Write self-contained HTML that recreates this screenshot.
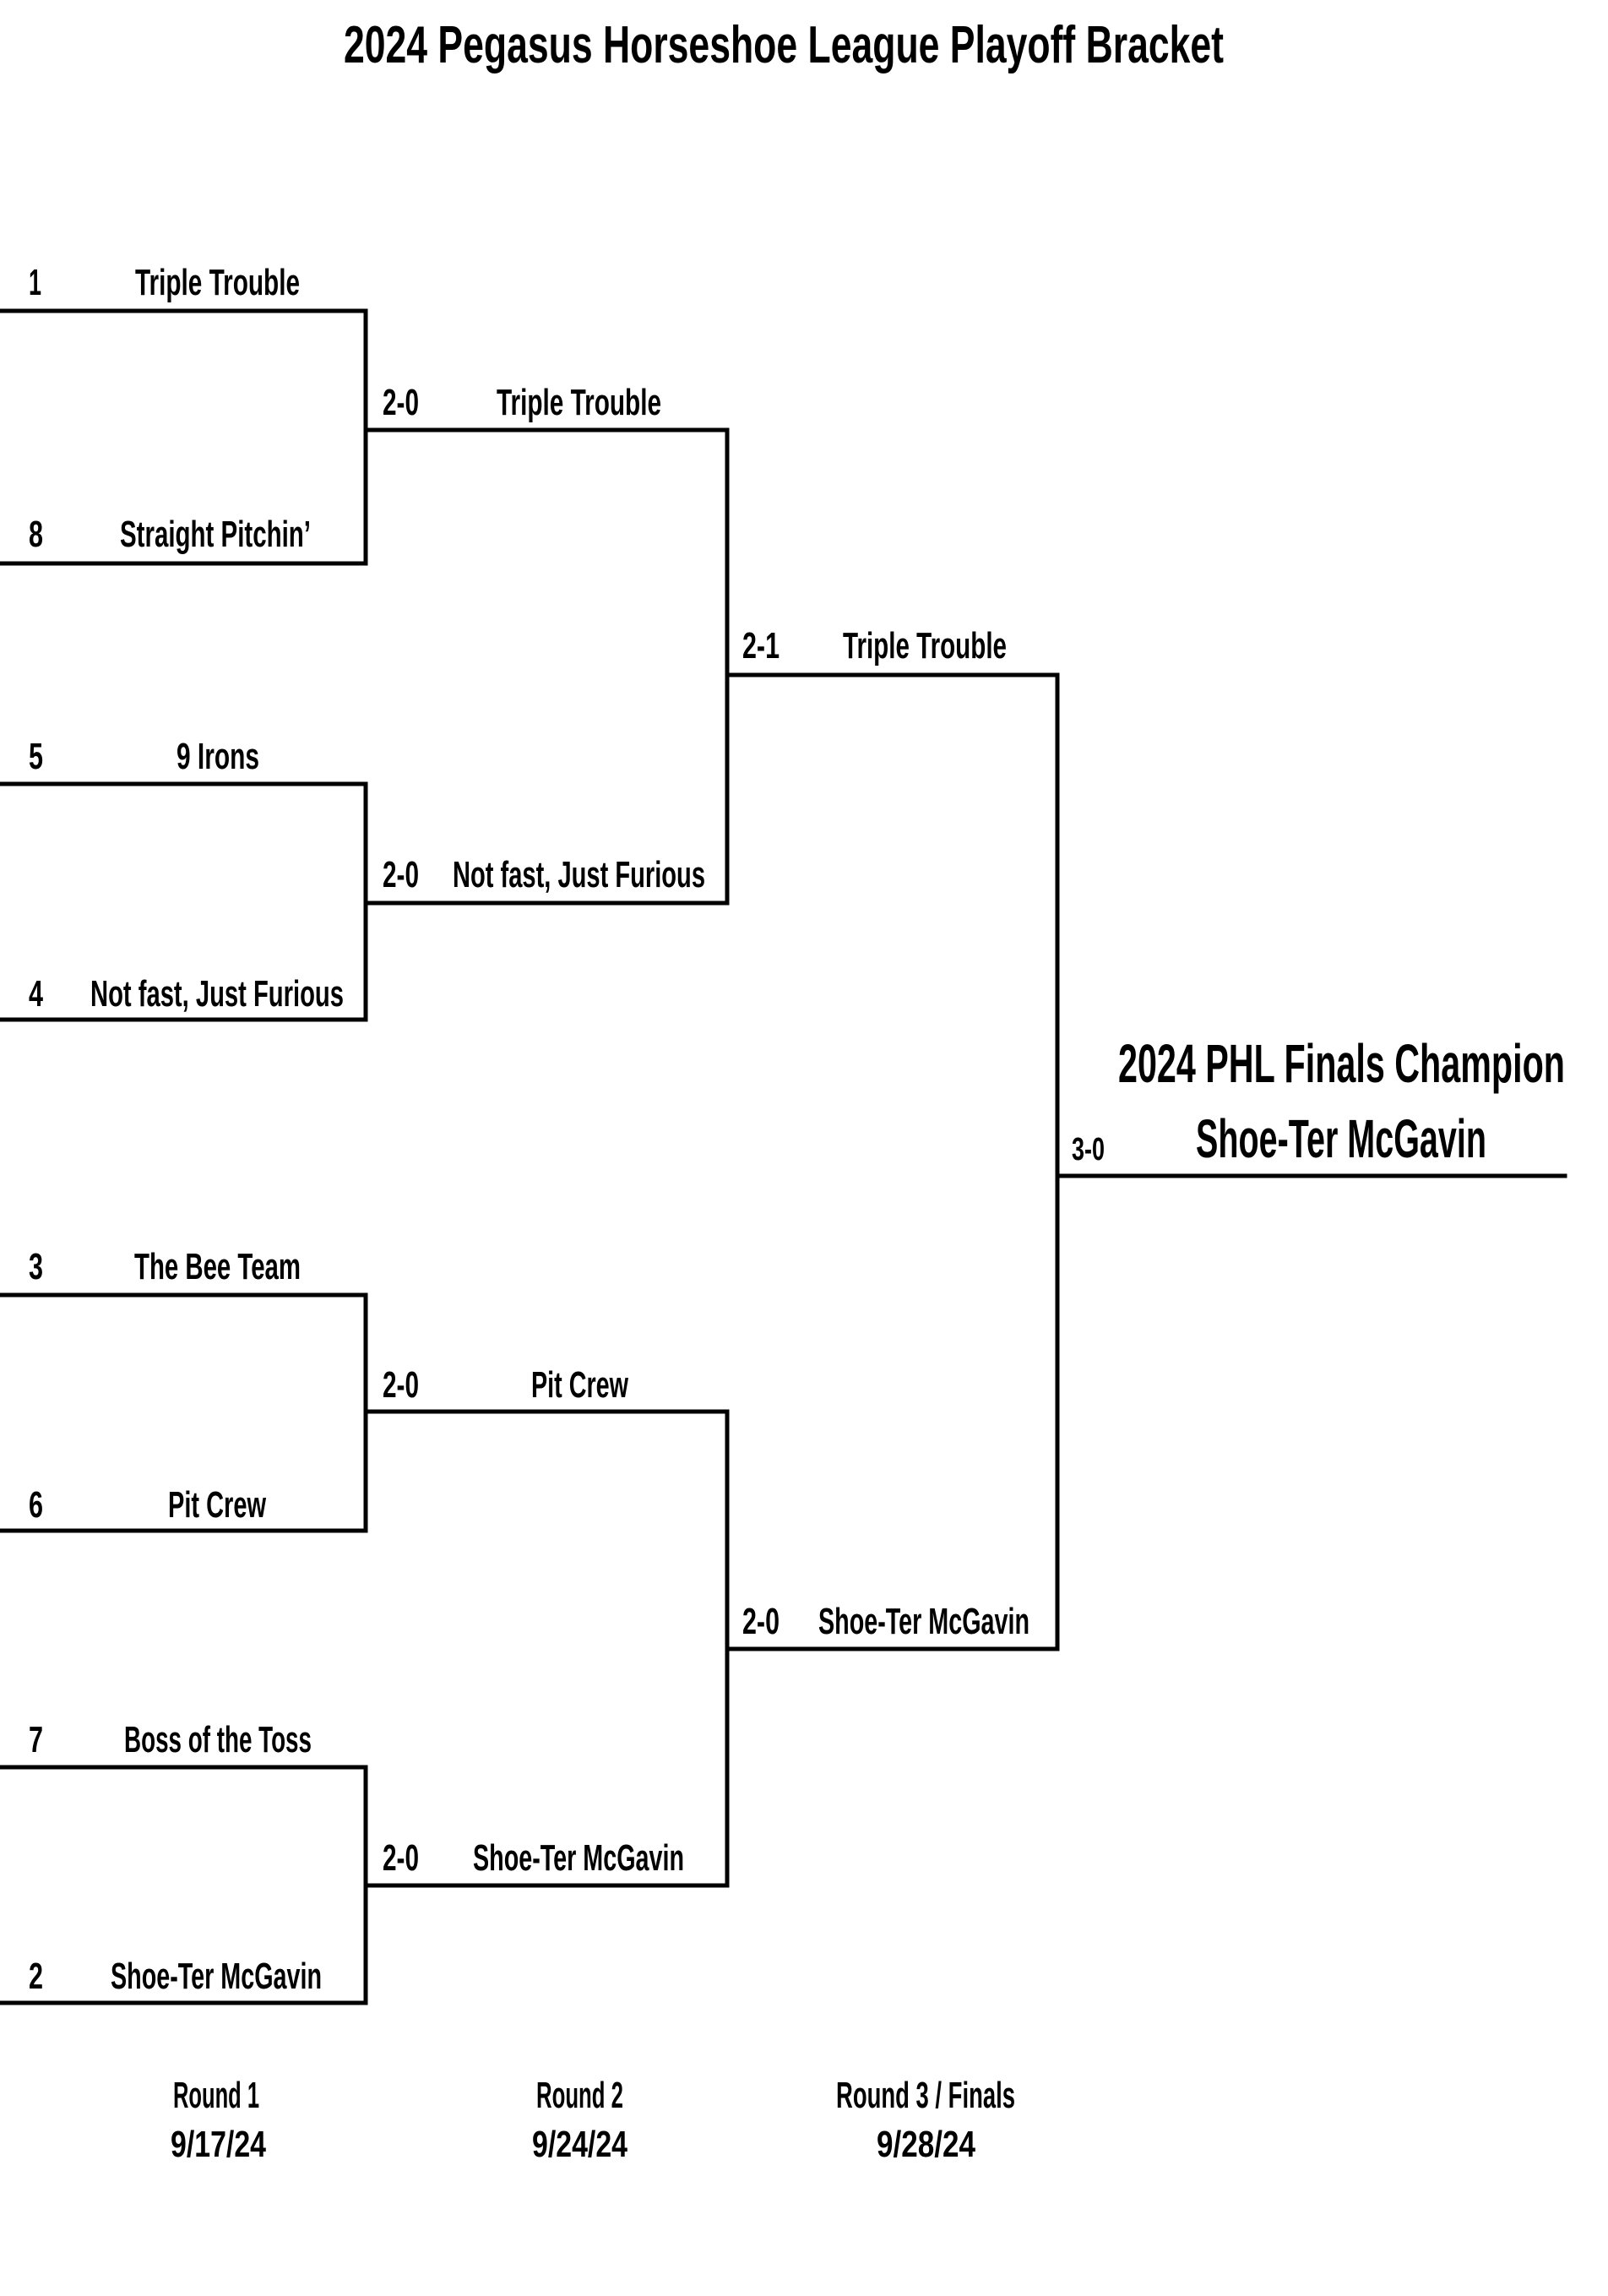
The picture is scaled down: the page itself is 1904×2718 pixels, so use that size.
<!DOCTYPE html>
<html><head><meta charset="utf-8"><style>
html,body{margin:0;padding:0;background:#fff;}
svg{display:block;}
text{font-family:"Liberation Sans Narrow","Liberation Sans",sans-serif;font-weight:bold;fill:#000;}
</style></head><body>
<svg width="1904" height="2718" viewBox="0 0 1904 2718" xmlns="http://www.w3.org/2000/svg">
<g fill="none" stroke="#000" stroke-width="5" stroke-linecap="square">
<path d="M0 368 H433 V667 H0"/>
<path d="M0 928 H433 V1207 H0"/>
<path d="M0 1533 H433 V1812 H0"/>
<path d="M0 2092 H433 V2371 H0"/>
<path d="M433 509 H861 V1069 H433"/>
<path d="M433 1671 H861 V2232 H433"/>
<path d="M861 799 H1252 V1952 H861"/>
<path d="M1252 1392 H1853"/>
</g>
<text x="407" y="74" font-size="62" textLength="1042" lengthAdjust="spacingAndGlyphs">2024 Pegasus Horseshoe League Playoff Bracket</text>
<g font-size="44">
<text x="34" y="349" textLength="15" lengthAdjust="spacingAndGlyphs">1</text>
<text x="160" y="349" textLength="195" lengthAdjust="spacingAndGlyphs">Triple Trouble</text>
<text x="34" y="647" textLength="17" lengthAdjust="spacingAndGlyphs">8</text>
<text x="142" y="647" textLength="226" lengthAdjust="spacingAndGlyphs">Straight Pitchin’</text>
<text x="34" y="910" textLength="17" lengthAdjust="spacingAndGlyphs">5</text>
<text x="209" y="910" textLength="98" lengthAdjust="spacingAndGlyphs">9 Irons</text>
<text x="34" y="1191" textLength="17" lengthAdjust="spacingAndGlyphs">4</text>
<text x="107" y="1191" textLength="300" lengthAdjust="spacingAndGlyphs">Not fast, Just Furious</text>
<text x="34" y="1514" textLength="17" lengthAdjust="spacingAndGlyphs">3</text>
<text x="159" y="1514" textLength="197" lengthAdjust="spacingAndGlyphs">The Bee Team</text>
<text x="34" y="1796" textLength="17" lengthAdjust="spacingAndGlyphs">6</text>
<text x="199" y="1796" textLength="116" lengthAdjust="spacingAndGlyphs">Pit Crew</text>
<text x="34" y="2074" textLength="17" lengthAdjust="spacingAndGlyphs">7</text>
<text x="147" y="2074" textLength="222" lengthAdjust="spacingAndGlyphs">Boss of the Toss</text>
<text x="34" y="2354" textLength="17" lengthAdjust="spacingAndGlyphs">2</text>
<text x="131" y="2354" textLength="250" lengthAdjust="spacingAndGlyphs">Shoe-Ter McGavin</text>

<text x="453" y="491" textLength="43" lengthAdjust="spacingAndGlyphs">2-0</text>
<text x="588" y="491" textLength="195" lengthAdjust="spacingAndGlyphs">Triple Trouble</text>
<text x="453" y="1050" textLength="43" lengthAdjust="spacingAndGlyphs">2-0</text>
<text x="536" y="1050" textLength="299" lengthAdjust="spacingAndGlyphs">Not fast, Just Furious</text>
<text x="453" y="1654" textLength="43" lengthAdjust="spacingAndGlyphs">2-0</text>
<text x="629" y="1654" textLength="115" lengthAdjust="spacingAndGlyphs">Pit Crew</text>
<text x="453" y="2214" textLength="43" lengthAdjust="spacingAndGlyphs">2-0</text>
<text x="560" y="2214" textLength="250" lengthAdjust="spacingAndGlyphs">Shoe-Ter McGavin</text>

<text x="879" y="779" textLength="44" lengthAdjust="spacingAndGlyphs">2-1</text>
<text x="998" y="779" textLength="194" lengthAdjust="spacingAndGlyphs">Triple Trouble</text>
<text x="879" y="1934" textLength="44" lengthAdjust="spacingAndGlyphs">2-0</text>
<text x="969" y="1934" textLength="250" lengthAdjust="spacingAndGlyphs">Shoe-Ter McGavin</text>

<text x="205" y="2495" textLength="102" lengthAdjust="spacingAndGlyphs">Round 1</text>
<text x="202" y="2553" textLength="113" lengthAdjust="spacingAndGlyphs">9/17/24</text>
<text x="635" y="2495" textLength="103" lengthAdjust="spacingAndGlyphs">Round 2</text>
<text x="630" y="2553" textLength="113" lengthAdjust="spacingAndGlyphs">9/24/24</text>
<text x="990" y="2495" textLength="212" lengthAdjust="spacingAndGlyphs">Round 3 / Finals</text>
<text x="1038" y="2553" textLength="117" lengthAdjust="spacingAndGlyphs">9/28/24</text>
</g>
<text x="1269" y="1373" font-size="38" textLength="39" lengthAdjust="spacingAndGlyphs">3-0</text>
<text x="1324" y="1281" font-size="64" textLength="529" lengthAdjust="spacingAndGlyphs">2024 PHL Finals Champion</text>
<text x="1416" y="1370" font-size="64" textLength="344" lengthAdjust="spacingAndGlyphs">Shoe-Ter McGavin</text>
</svg>
</body></html>
